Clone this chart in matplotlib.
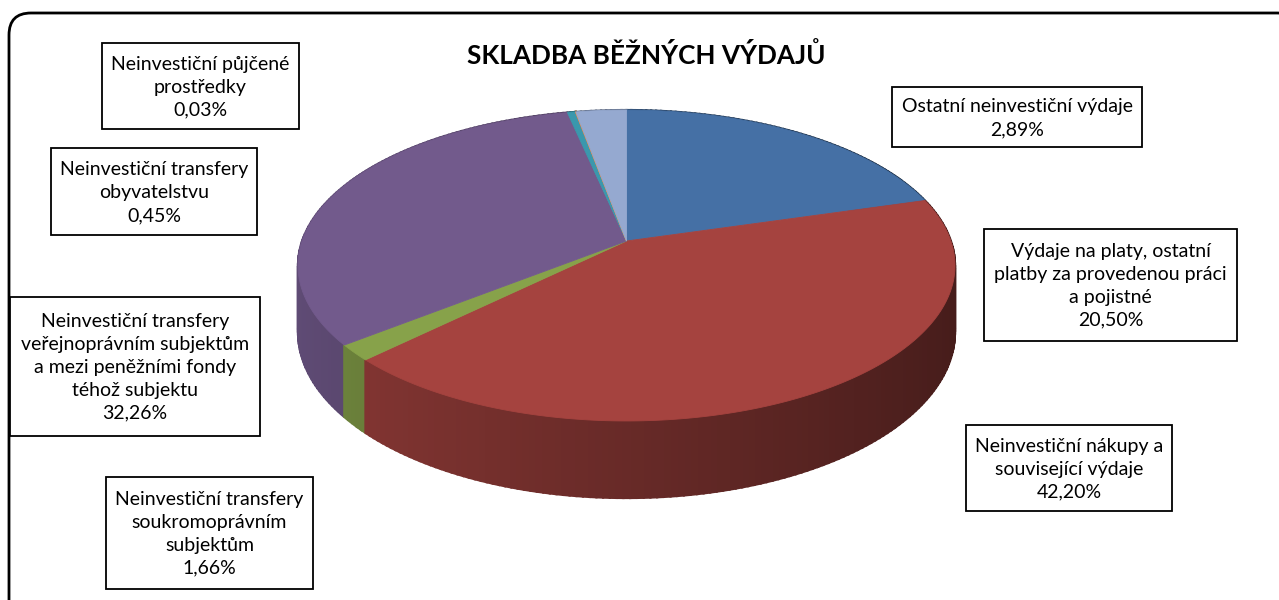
import numpy as np
import matplotlib
matplotlib.use("Agg")
import matplotlib.pyplot as plt
from matplotlib.patches import Polygon, Rectangle, FancyBboxPatch

plt.rcParams['font.family'] = ['Lato', 'DejaVu Sans']

# data (clockwise from 12 o'clock, as Excel draws it)
shares = [20.50, 42.20, 1.66, 32.26, 0.45, 0.03, 2.89]
top_colors = ['#4570A5', '#A5433F', '#87A24A', '#725A8C', '#3A98AD', '#DB843D', '#95A9D0']

title = 'SKLADBA BĚŽNÝCH VÝDAJŮ'
label_texts = [
    'Neinvestiční půjčené\nprostředky\n0,03%',
    'Neinvestiční transfery\nobyvatelstvu\n0,45%',
    'Neinvestiční transfery\nveřejnoprávním subjektům\na mezi peněžními fondy\ntéhož subjektu\n32,26%',
    'Neinvestiční transfery\nsoukromoprávním\nsubjektům\n1,66%',
    'Ostatní neinvestiční výdaje\n2,89%',
    'Výdaje na platy, ostatní\nplatby za provedenou práci\na pojistné\n20,50%',
    'Neinvestiční nákupy a\nsouvisející výdaje\n42,20%',
]
# label boxes in pixels: x0, y0, x1, y1
label_boxes = [
    (102, 43, 299, 129),
    (51, 148, 257, 235),
    (10, 297, 260, 436),
    (106, 477, 313, 589),
    (892, 87, 1142, 147),
    (984, 229, 1237, 341),
    (966, 425, 1172, 511),
]

# pie geometry (pixels), simple perspective
cx, cy = 626.5, 241
A, B, k = 324.4, 151.6, 0.1576
D0 = 64.9


def project(theta, depth=0.0):
    u = np.sin(theta)
    v = -np.cos(theta)
    w = 1 - k * v
    return cx + A * u / w, cy + (B * v + depth) / w


def side_shade(hexcol, theta):
    rgb = np.array(matplotlib.colors.to_rgb(hexcol))
    f = 0.63 - 0.21 * np.sin(theta)
    return np.clip(rgb * f, 0, 1)


fig = plt.figure(figsize=(12.79, 6.0), dpi=100)
ax = fig.add_axes([0, 0, 1, 1])
ax.set_xlim(0, 1279)
ax.set_ylim(600, 0)
ax.axis('off')

# outer rounded frame
frame = FancyBboxPatch((9, 13), 1290, 610, boxstyle='round,pad=0,rounding_size=22',
                       fc='white', ec='black', lw=2, clip_on=False, zorder=0)
ax.add_patch(frame)

fr = np.array(shares) / sum(shares)
ends = np.cumsum(fr) * 2 * np.pi
starts = ends - fr * 2 * np.pi

# side walls
segs = []
for i in range(len(shares)):
    n = max(3, int(fr[i] * 360))
    th = np.linspace(starts[i], ends[i], n + 1)
    for a, b in zip(th[:-1], th[1:]):
        segs.append((-np.cos(0.5 * (a + b)), a, b, i))
segs.sort()
for _, a, b, i in segs:
    tt = np.linspace(a, b, 4)
    top = [project(t) for t in tt]
    bot = [project(t, D0) for t in tt[::-1]]
    col = side_shade(top_colors[i], 0.5 * (a + b))
    ax.add_patch(Polygon(top + bot, closed=True, fc=col, ec=col, lw=1.6, zorder=2))

# top faces
for i in range(len(shares)):
    th = np.linspace(starts[i], ends[i], max(4, int(fr[i] * 400)))
    pts = [(cx, cy)] + [project(t) for t in th]
    ax.add_patch(Polygon(pts, closed=True, fc=top_colors[i], ec=top_colors[i], lw=0.6, zorder=3))

ax.text(646, 55, title, ha='center', va='center', fontsize=18.8, fontweight='bold', zorder=5)

for txt, (x0, y0, x1, y1) in zip(label_texts, label_boxes):
    ax.add_patch(Rectangle((x0, y0), x1 - x0, y1 - y0, fc='white', ec='black', lw=1.3, zorder=4))
    ax.text((x0 + x1) / 2, (y0 + y1) / 2 + 1, txt, ha='center', va='center',
            fontsize=14, linespacing=1.42, zorder=5)

fig.savefig('out.png', dpi=100)
